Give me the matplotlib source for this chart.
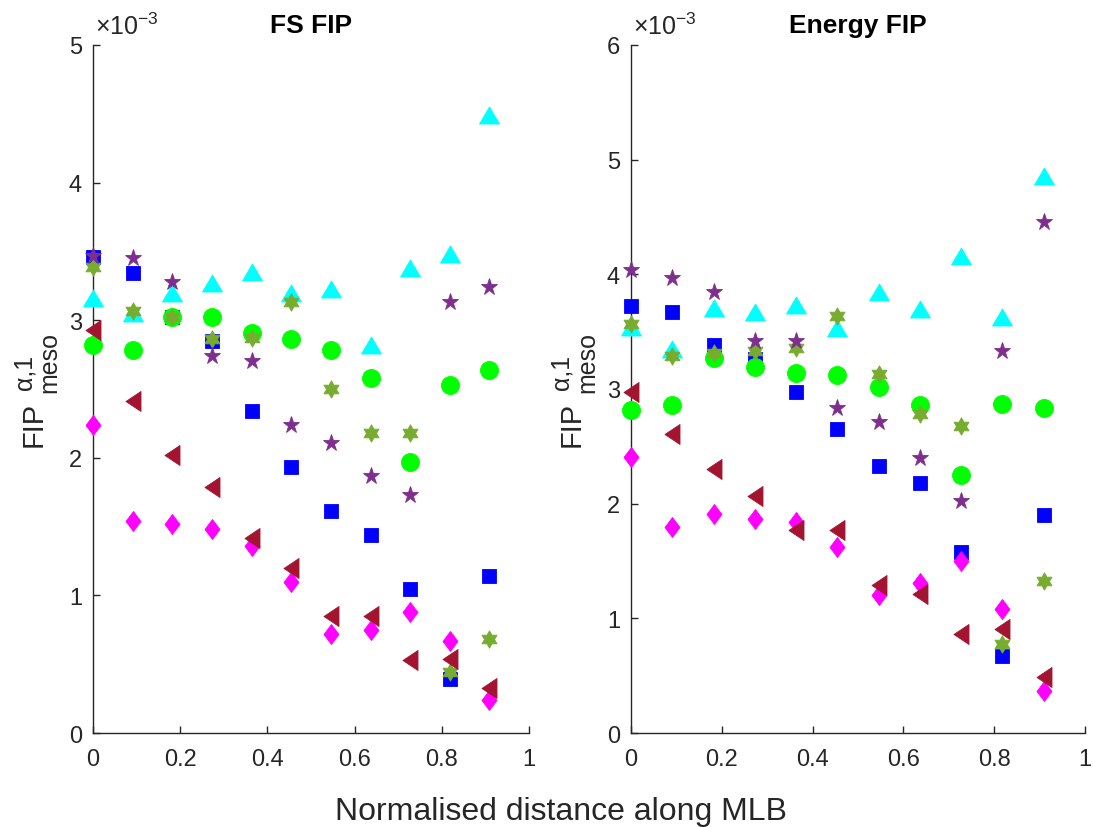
import numpy as np
import matplotlib
matplotlib.use("Agg")
import matplotlib.pyplot as plt
from matplotlib.path import Path
from matplotlib.ticker import FuncFormatter
from matplotlib.transforms import offset_copy

plt.rcParams['font.family'] = ['Liberation Sans', 'DejaVu Sans']
plt.rcParams['mathtext.fontset'] = 'custom'
plt.rcParams['mathtext.rm'] = 'Liberation Sans'
plt.rcParams['mathtext.it'] = 'Liberation Sans:italic'
plt.rcParams['mathtext.bf'] = 'Liberation Sans:bold'
plt.rcParams['mathtext.default'] = 'regular'

# Normalised positions along the MLB
distance = [0.0, 0.0909, 0.1818, 0.2727, 0.3636, 0.4545,
            0.5455, 0.6364, 0.7273, 0.8182, 0.9091]

# FS FIP values (x 1e-3)
fs_blue = [3.46, 3.34, 3.02, 2.85, 2.34, 1.93, 1.61, 1.44, 1.05, 0.39, 1.14]
fs_green = [2.82, 2.78, 3.02, 3.02, 2.91, 2.86, 2.78, 2.58, 1.97, 2.53, 2.64]
fs_cyan = [3.16, 3.05, 3.20, 3.27, 3.35, 3.20, 3.23, 2.82, 3.38, 3.48, 4.49]
fs_olive = [3.39, 3.07, 3.02, 2.86, 2.87, 3.13, 2.50, 2.18, 2.18, 0.44, 0.68]
fs_purple = [3.47, 3.45, 3.28, 2.74, 2.70, 2.24, 2.11, 1.87, 1.73, 3.13, 3.24]
fs_magenta = [2.24, 1.54, 1.52, 1.48, 1.36, 1.10, 0.72, 0.75, 0.88, 0.67, 0.24]
fs_red = [2.93, 2.41, 2.02, 1.79, 1.42, 1.20, 0.85, 0.85, 0.53, 0.54, 0.33]

# Energy FIP values (x 1e-3)
en_blue = [3.72, 3.67, 3.38, 3.26, 2.97, 2.65, 2.33, 2.18, 1.58, 0.67, 1.90]
en_green = [2.82, 2.86, 3.27, 3.19, 3.14, 3.12, 3.02, 2.86, 2.25, 2.87, 2.83]
en_cyan = [3.54, 3.35, 3.71, 3.67, 3.73, 3.53, 3.85, 3.70, 4.16, 3.63, 4.86]
en_olive = [3.57, 3.29, 3.31, 3.33, 3.36, 3.64, 3.13, 2.78, 2.68, 0.78, 1.33]
en_purple = [4.04, 3.97, 3.85, 3.42, 3.42, 2.83, 2.71, 2.40, 2.02, 3.33, 4.46]
en_magenta = [2.41, 1.80, 1.91, 1.87, 1.84, 1.62, 1.20, 1.31, 1.50, 1.08, 0.37]
en_red = [2.97, 2.61, 2.30, 2.07, 1.77, 1.77, 1.29, 1.21, 0.86, 0.91, 0.49]

SCALE = 1e-3

# MATLAB-like marker shapes
tri_up = Path([(0, 0.85), (-1, -0.85), (1, -0.85), (0, 0.85)],
              [Path.MOVETO, Path.LINETO, Path.LINETO, Path.CLOSEPOLY])
tri_left = Path([(-0.75, 0), (0.75, 1), (0.75, -1), (-0.75, 0)],
                [Path.MOVETO, Path.LINETO, Path.LINETO, Path.CLOSEPOLY])
diamond = Path([(0, 1), (0.75, 0), (0, -1), (-0.75, 0), (0, 1)],
               [Path.MOVETO, Path.LINETO, Path.LINETO, Path.LINETO, Path.CLOSEPOLY])
hexagram = Path.unit_regular_star(6, 1 / np.sqrt(3))

styles = [
    ('s', 10, (0.0, 0.0, 1.0)),
    ('o', 13, (0.0, 1.0, 0.0)),
    (tri_up, 14.4, (0.0, 1.0, 1.0)),
    (hexagram, 12.5, (0.466, 0.674, 0.188)),
    ('*', 12.5, (0.494, 0.184, 0.556)),
    (diamond, 14.4, (1.0, 0.0, 1.0)),
    (tri_left, 14.4, (0.635, 0.078, 0.184)),
]

fs_series = [fs_blue, fs_green, fs_cyan, fs_olive, fs_purple, fs_magenta, fs_red]
en_series = [en_blue, en_green, en_cyan, en_olive, en_purple, en_magenta, en_red]

fig = plt.figure(figsize=(10.93, 8.28), dpi=100)
ax1 = fig.add_axes([0.0851, 0.1135, 0.399, 0.831])
ax2 = fig.add_axes([0.5773, 0.1135, 0.4154, 0.831])

axis_grey = (0.15, 0.15, 0.15)


def place(ax, dx, dy):
    """Offset (in pixels) from the lower-left corner of the axes."""
    return offset_copy(ax.transAxes, fig=fig, x=dx, y=dy, units='dots')


def draw_ylabel(ax):
    kw = dict(rotation=90, rotation_mode='anchor', ha='center',
              va='baseline', color=axis_grey)
    ax.text(0, 0, 'FIP', fontsize=21, transform=place(ax, -51, 310), **kw)
    ax.text(0, 0, '\u03b1,1', fontsize=18, transform=place(ax, -62, 362), **kw)
    ax.text(0, 0, 'meso', fontsize=18, transform=place(ax, -37, 372), **kw)


def draw_panel(ax, series, title, ymax):
    xs = np.asarray(distance)
    for (mk, ms, col), vals in zip(styles, series):
        ax.plot(xs, np.asarray(vals) * SCALE, linestyle='none', marker=mk,
                markersize=ms, markerfacecolor=col, markeredgecolor=col,
                markeredgewidth=0.6, clip_on=False, zorder=3)
    ax.set_xlim(0, 1)
    ax.set_ylim(0, ymax * SCALE)
    ax.set_xticks([0, 0.2, 0.4, 0.6, 0.8, 1.0])
    ax.xaxis.set_major_formatter(FuncFormatter(lambda v, p: f'{v:g}'))
    ax.set_yticks(np.arange(0, ymax + 1) * SCALE)
    ax.yaxis.set_major_formatter(FuncFormatter(lambda v, p: f'{v / SCALE:g}'))
    ax.text(0, 0, r'$\times10^{-3}$', fontsize=18, color=axis_grey,
            ha='left', va='baseline', transform=place(ax, 2, 688 + 11))
    for side in ('top', 'right'):
        ax.spines[side].set_visible(False)
    for side in ('left', 'bottom'):
        ax.spines[side].set_color(axis_grey)
        ax.spines[side].set_linewidth(1.0)
        ax.spines[side].set_zorder(2)
    ax.tick_params(direction='in', length=5, width=1.0, colors=axis_grey,
                   labelsize=17, labelcolor=axis_grey)
    ax.tick_params(axis='x', pad=11)
    ax.tick_params(axis='y', pad=8)
    ax.set_title(title, fontsize=19, fontweight='bold', pad=9.5)
    draw_ylabel(ax)


draw_panel(ax1, fs_series, 'FS FIP', 5)
draw_panel(ax2, en_series, 'Energy FIP', 6)

fig.text(0.513, 8 / 828, 'Normalised distance along MLB', ha='center',
         va='baseline', fontsize=23, color=axis_grey)

fig.savefig('out.png', dpi=100)
